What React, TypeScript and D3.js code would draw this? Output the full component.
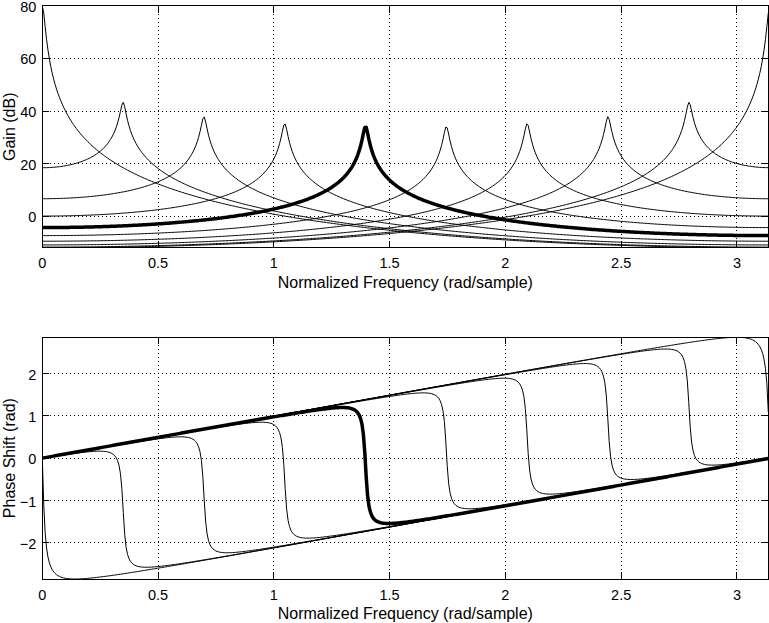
import React from "react";
import * as d3 from "d3";

// Resonance (peak) frequencies, rad/sample
const resonanceFreqs = [0, 0.349, 0.698, 1.047, 1.396, 1.745, 2.094, 2.443, 2.793, 3.1416];
// Pole radius inferred from peak heights (80 dB at DC, ~34 dB near pi/2)
const poleRadius = 0.99;
const highlightedIndex = 4;
const numFreqPoints = 512;

const xTicks = [0, 0.5, 1, 1.5, 2, 2.5, 3];
const xTickLabels = ["0", "0.5", "1", "1.5", "2", "2.5", "3"];
const gainTicks = [0, 20, 40, 60, 80];
const phaseTicks = [-2, -1, 0, 1, 2];

const xLabel = "Normalized Frequency (rad/sample)";
const gainLabel = "Gain (dB)";
const phaseLabel = "Phase Shift (rad)";

type Pt = { w: number; g: number; p: number };

function response(theta: number, r: number): Pt[] {
  const out: Pt[] = [];
  for (let i = 0; i < numFreqPoints; i++) {
    const w = (Math.PI * i) / numFreqPoints;
    const c = 2 * r * Math.cos(theta);
    const re = 1 - c * Math.cos(w) + r * r * Math.cos(2 * w);
    const im = c * Math.sin(w) - r * r * Math.sin(2 * w);
    const mag = Math.sqrt(re * re + im * im);
    out.push({ w, g: -20 * Math.log10(mag), p: -Math.atan2(im, re) });
  }
  return out;
}

const curves = resonanceFreqs.map((t) => response(t, poleRadius));

const FONT = "'Liberation Sans', Arial, Helvetica, sans-serif";
const W = 769;
const H = 623;
const left = 42.3;
const right = 768.3;
const TICK = 7;

type PanelProps = {
  top: number;
  bottom: number;
  key2: "g" | "p";
  yTicks: number[];
  yLabel: string;
  id: string;
};

function Panel({ top, bottom, key2, yTicks, yLabel, id }: PanelProps) {
  const allW = curves[0].map((d) => d.w);
  const x = d3.scaleLinear().domain([0, d3.max(allW) as number]).range([left, right]);
  const allY = curves.flatMap((c) => c.map((d) => d[key2]));
  const ext = d3.extent(allY) as [number, number];
  const y = d3.scaleLinear().domain(ext).range([bottom, top]);
  const line = d3
    .line<Pt>()
    .x((d) => x(d.w))
    .y((d) => y(d[key2]));
  const order = curves.map((_, i) => i).filter((i) => i !== highlightedIndex);
  order.push(highlightedIndex);
  return (
    <g>
      <defs>
        <clipPath id={id}>
          <rect x={left} y={top} width={right - left} height={bottom - top} />
        </clipPath>
      </defs>
      {xTicks.map((t) => (
        <line
          key={"gx" + t}
          x1={x(t)}
          x2={x(t)}
          y1={top}
          y2={bottom}
          stroke="#000"
          strokeWidth={1}
          strokeDasharray="1,3"
          shapeRendering="crispEdges"
        />
      ))}
      {yTicks.map((t) => (
        <line
          key={"gy" + t}
          x1={left}
          x2={right}
          y1={y(t)}
          y2={y(t)}
          stroke="#000"
          strokeWidth={1}
          strokeDasharray="1,3"
          shapeRendering="crispEdges"
        />
      ))}
      <g clipPath={`url(#${id})`}>
        {order.map((i) => (
          <path
            key={i}
            d={line(curves[i]) || ""}
            fill="none"
            stroke="#000"
            strokeWidth={i === highlightedIndex ? 3.5 : 1}
            strokeLinejoin="round"
          />
        ))}
      </g>
      <rect
        x={left}
        y={top}
        width={right - left}
        height={bottom - top}
        fill="none"
        stroke="#000"
        strokeWidth={1}
        shapeRendering="crispEdges"
      />
      {xTicks.map((t) => (
        <g key={"tx" + t}>
          <line x1={x(t)} x2={x(t)} y1={bottom} y2={bottom - TICK} stroke="#000" shapeRendering="crispEdges" />
          <line x1={x(t)} x2={x(t)} y1={top} y2={top + TICK} stroke="#000" shapeRendering="crispEdges" />
        </g>
      ))}
      {yTicks.map((t) => (
        <g key={"ty" + t}>
          <line x1={left} x2={left + TICK} y1={y(t)} y2={y(t)} stroke="#000" shapeRendering="crispEdges" />
          <line x1={right} x2={right - TICK} y1={y(t)} y2={y(t)} stroke="#000" shapeRendering="crispEdges" />
        </g>
      ))}
      {xTicks.map((t, i) => (
        <text
          key={"lx" + t}
          x={x(t)}
          y={bottom + 20.5}
          textAnchor="middle"
          fontFamily={FONT}
          fontSize={14.5}
        >
          {xTickLabels[i]}
        </text>
      ))}
      {yTicks.map((t) => (
        <text
          key={"ly" + t}
          x={left - 6}
          y={Math.max(y(t) + 1, 7)}
          dy="0.35em"
          textAnchor="end"
          fontFamily={FONT}
          fontSize={14.5}
        >
          {t < 0 ? "\u2212" + Math.abs(t) : String(t)}
        </text>
      ))}
      <text
        x={(left + right) / 2}
        y={bottom + 40}
        textAnchor="middle"
        fontFamily={FONT}
        fontSize={16}
      >
        {xLabel}
      </text>
      <text
        transform={`translate(15,${(top + bottom) / 2}) rotate(-90)`}
        textAnchor="middle"
        fontFamily={FONT}
        fontSize={16}
      >
        {yLabel}
      </text>
    </g>
  );
}

export default function App() {
  return (
    <svg
      width={W}
      height={H}
      viewBox={`0 0 ${W} ${H}`}
      style={{ position: "absolute", left: 0, top: 0, background: "#fff" }}
    >
      <rect x={0} y={0} width={W} height={H} fill="#fff" />
      <Panel top={5.7} bottom={247.8} key2="g" yTicks={gainTicks} yLabel={gainLabel} id="clipGain" />
      <Panel top={337.3} bottom={579} key2="p" yTicks={phaseTicks} yLabel={phaseLabel} id="clipPhase" />
    </svg>
  );
}
